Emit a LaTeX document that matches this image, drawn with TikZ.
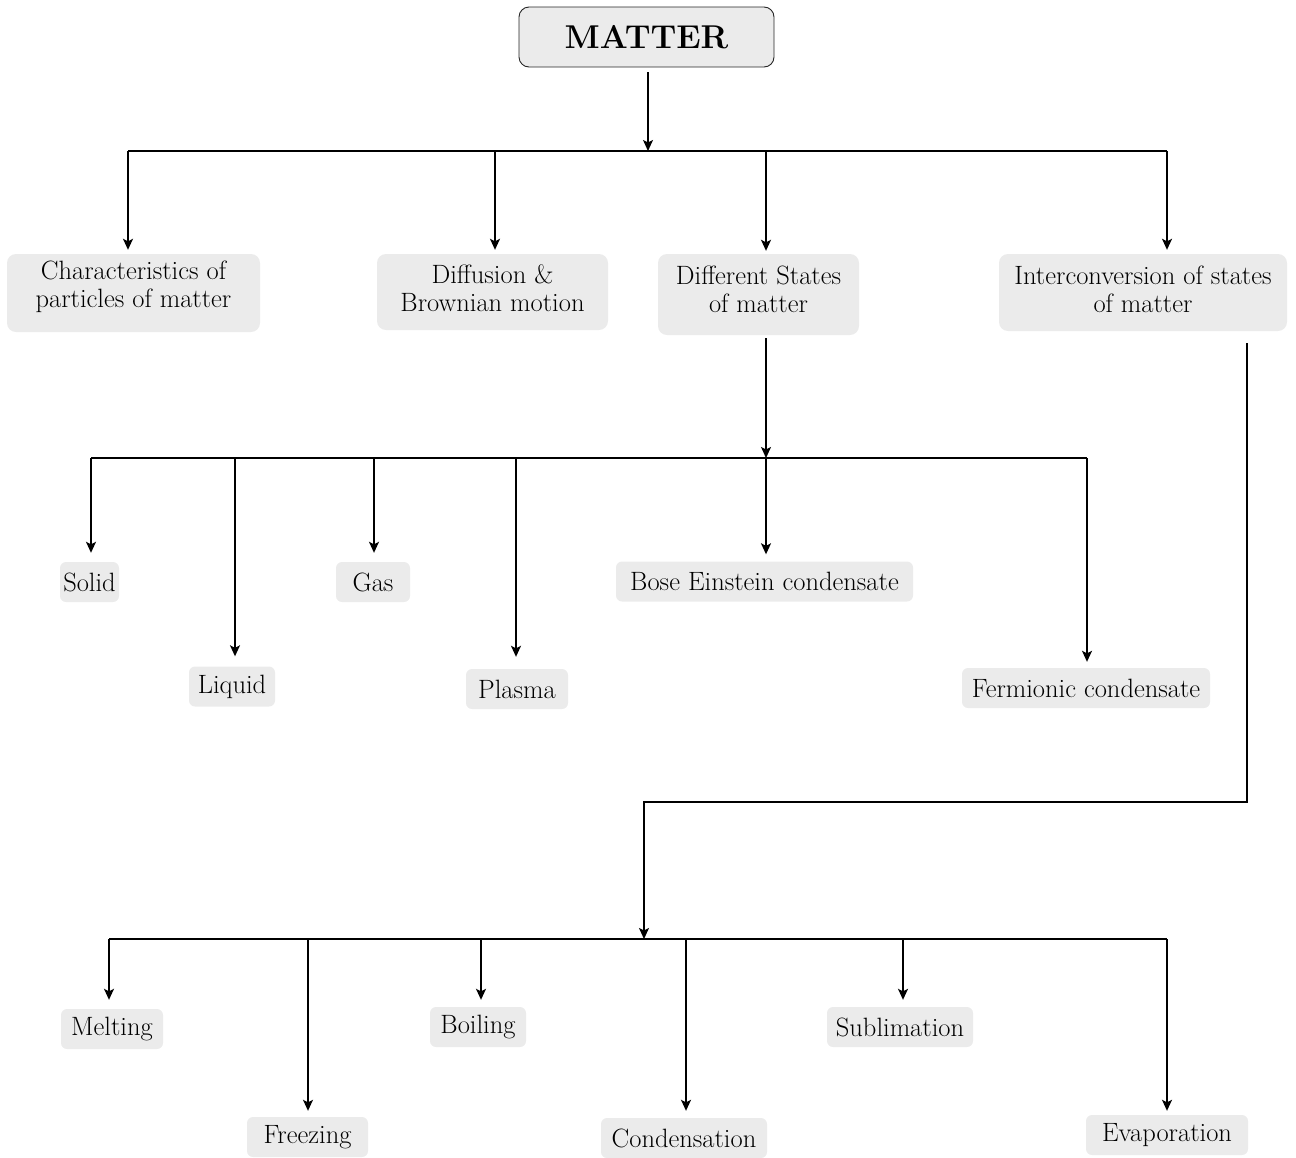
\documentclass[tikz,border=0pt]{standalone}
\usetikzlibrary{arrows.meta}
\definecolor{boxgray}{HTML}{EBEBEB}
\begin{document}
\begin{tikzpicture}[x=1pt,y=-1pt,
  box/.style={fill=boxgray, rounded corners=9pt, inner sep=0pt, align=center,
    font=\fontsize{26.5}{28}\selectfont},
  lbl/.style={inner sep=0pt, align=center, font=\fontsize{26.5}{28}\selectfont},
  small/.style={box, rounded corners=6pt, minimum height=40pt},
  arr/.style={line width=1.5pt, -{Stealth[length=11pt,width=10pt,inset=2.5pt]}},
  wire/.style={line width=1.5pt}]
\useasboundingbox (0,0) rectangle (1296,1157);

% root
\node[box, draw=black!85, line width=0.9pt, rounded corners=10pt,
  minimum width=255pt, minimum height=60pt,
  font=\fontsize{33}{36}\selectfont\bfseries] (matter) at (646.5,37) {MATTER};

% first level: boxes with their text sitting a little above centre
\node[box, minimum width=253pt, minimum height=78pt,
  label={[lbl, yshift=6pt]center:{Characteristics of\\particles of matter}}] (chars) at (133.5,293) {};
\node[box, minimum width=231pt, minimum height=76pt,
  label={[lbl, yshift=3.5pt]center:{Diffusion \&\\Brownian motion}}] (diff) at (492.5,292) {};
\node[box, minimum width=201pt, minimum height=81pt,
  label={[lbl, yshift=5.5pt]center:{Different States\\of matter}}] (states) at (758.5,294.5) {};
\node[box, minimum width=288pt, minimum height=77pt,
  label={[lbl, yshift=3pt]center:{Interconversion of states\\of matter}}] (inter) at (1143,292.5) {};

% states of matter
\node[small, minimum width=59pt]  (solid)  at (89.5,582) {Solid};
\node[small, minimum width=86pt]  (liquid) at (232,686.5) {Liquid};
\node[small, minimum width=74pt]  (gas)    at (373,582) {Gas};
\node[small, minimum width=102pt] (plasma) at (517,689) {Plasma};
\node[small, minimum width=297pt] (bose)   at (764.5,581.5) {Bose Einstein condensate};
\node[small, minimum width=248pt] (fermi)  at (1086,688) {Fermionic condensate};

% changes of state
\node[small, minimum width=102pt] (melt)  at (112,1029) {Melting};
\node[small, minimum width=121pt] (freeze) at (307.5,1137) {Freezing};
\node[small, minimum width=96pt]  (boil)  at (478,1027) {Boiling};
\node[small, minimum width=166pt] (cond)  at (684,1138) {Condensation};
\node[small, minimum width=146pt] (subl)  at (900,1027) {Sublimation};
\node[small, minimum width=162pt] (evap)  at (1167,1135) {Evaporation};

% bus points
\coordinate (top) at (648,151);
\coordinate (t1) at (128,151);
\coordinate (t2) at (495,151);
\coordinate (t3) at (766,151);
\coordinate (t4) at (1167,151);

\coordinate (s0) at (766,458);
\coordinate (s1) at (91,458);
\coordinate (s2) at (235,458);
\coordinate (s3) at (374,458);
\coordinate (s4) at (516,458);
\coordinate (s5) at (766,458);
\coordinate (s6) at (1087,458);

\coordinate (r0) at (1247,802);
\coordinate (i0) at (644,939);
\coordinate (c1) at (109,939);
\coordinate (c2) at (308,939);
\coordinate (c3) at (481,939);
\coordinate (c4) at (686,939);
\coordinate (c5) at (903,939);
\coordinate (c6) at (1167,939);

% root to first level
\draw[arr, shorten <=5pt] (matter.south -| top) -- (top);
\draw[wire] (t1) -- (t4);
\draw[arr, shorten >=4pt] (t1) -- (t1 |- chars.north);
\draw[arr, shorten >=4pt] (t2) -- (t2 |- diff.north);
\draw[arr, shorten >=3pt] (t3) -- (t3 |- states.north);
\draw[arr, shorten >=4pt] (t4) -- (t4 |- inter.north);

% states of matter
\draw[arr, shorten <=3pt] (s0 |- states.south) -- (s0);
\draw[wire] (s1) -- (s6);
\draw[arr, shorten >=9pt]  (s1) -- (s1 |- solid.north);
\draw[arr, shorten >=10pt] (s2) -- (s2 |- liquid.north);
\draw[arr, shorten >=9pt]  (s3) -- (s3 |- gas.north);
\draw[arr, shorten >=12pt] (s4) -- (s4 |- plasma.north);
\draw[arr, shorten >=7pt]  (s5) -- (s5 |- bose.north);
\draw[arr, shorten >=6pt]  (s6) -- (s6 |- fermi.north);

% changes of state
\draw[arr, shorten <=12pt] (r0 |- inter.south) -- (r0) -| (i0);
\draw[wire] (c1) -- (c6);
\draw[arr, shorten >=9pt] (c1) -- (c1 |- melt.north);
\draw[arr, shorten >=6pt] (c2) -- (c2 |- freeze.north);
\draw[arr, shorten >=7pt] (c3) -- (c3 |- boil.north);
\draw[arr, shorten >=7pt] (c4) -- (c4 |- cond.north);
\draw[arr, shorten >=7pt] (c5) -- (c5 |- subl.north);
\draw[arr, shorten >=4pt] (c6) -- (c6 |- evap.north);
\end{tikzpicture}
\end{document}
